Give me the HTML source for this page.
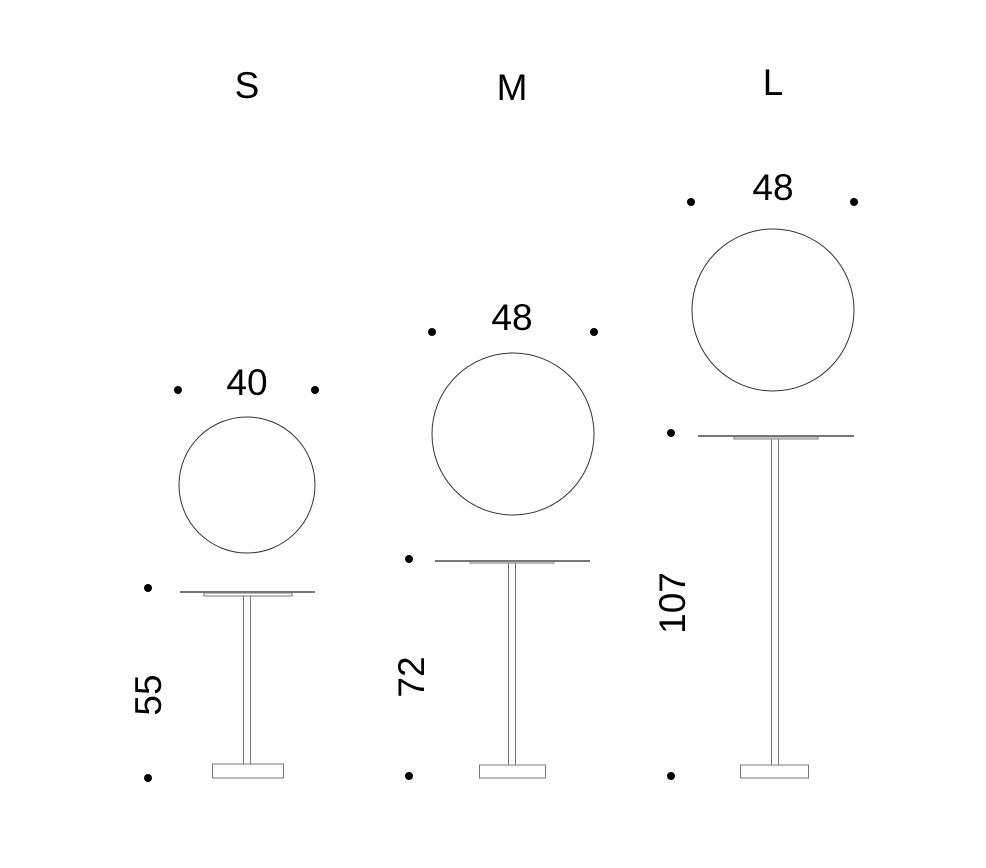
<!DOCTYPE html>
<html><head><meta charset="utf-8"><style>body{margin:0;background:#fff}svg{display:block}</style></head>
<body>
<svg width="986" height="868" viewBox="0 0 986 868" xmlns="http://www.w3.org/2000/svg" font-family="Liberation Sans, sans-serif" fill="#000">
<g font-size="37" text-anchor="middle">
<text x="247" y="98">S</text>
<text x="512" y="100">M</text>
<text x="773" y="95">L</text>
</g>
<g font-size="37" text-anchor="middle">
<text x="247" y="395">40</text>
<text x="512" y="330">48</text>
<text x="773" y="200">48</text>
<text transform="translate(148,695) rotate(-90)" y="13">55</text>
<text transform="translate(411,677) rotate(-90)" y="13">72</text>
<text transform="translate(672,603) rotate(-90)" y="13">107</text>
</g>
<g>
<circle cx="178" cy="390" r="4"/><circle cx="315" cy="390" r="4"/>
<circle cx="432" cy="332" r="4"/><circle cx="594" cy="332" r="4"/>
<circle cx="691" cy="202" r="4"/><circle cx="854" cy="202" r="4"/>
<circle cx="148" cy="588" r="4"/><circle cx="148" cy="778" r="4"/>
<circle cx="409" cy="559" r="4"/><circle cx="409" cy="776" r="4"/>
<circle cx="671" cy="433" r="4"/><circle cx="671" cy="776" r="4"/>
</g>
<g fill="none" stroke="#333" stroke-width="1">
<circle cx="247" cy="485" r="68"/>
<circle cx="513" cy="434" r="81"/>
<circle cx="773" cy="310" r="81"/>
</g>
<g fill="none" stroke="#777" stroke-width="1">
<line x1="180" y1="592" x2="315" y2="592" stroke-width="2"/>
<rect x="204" y="593" width="88" height="3"/>
<rect x="243.5" y="596" width="7" height="168"/>
<rect x="212.5" y="764" width="71" height="14"/>
<line x1="435" y1="561" x2="590" y2="561" stroke-width="2"/>
<rect x="470" y="561" width="84" height="2"/>
<rect x="508.5" y="563" width="7" height="202"/>
<rect x="479.5" y="765" width="66" height="13"/>
<line x1="698" y1="436" x2="854" y2="436" stroke-width="2"/>
<rect x="734" y="437" width="84" height="2"/>
<rect x="771.5" y="439" width="7" height="326"/>
<rect x="740.5" y="765" width="68" height="13"/>
</g>
</svg>
</body></html>
